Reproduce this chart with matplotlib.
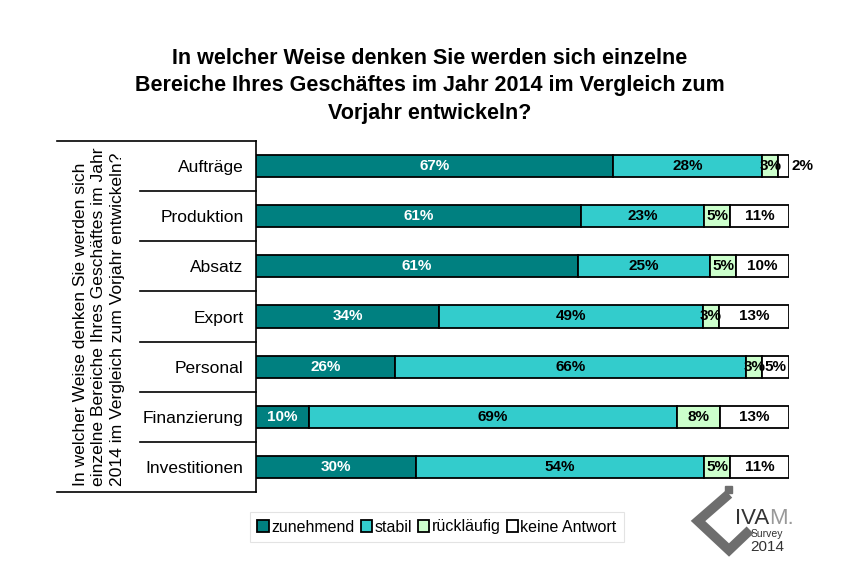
import matplotlib
matplotlib.use("Agg")
import matplotlib.pyplot as plt
import numpy as np

plt.rcParams['font.family'] = ['Liberation Sans', 'DejaVu Sans']

categories = ["Aufträge", "Produktion", "Absatz", "Export", "Personal", "Finanzierung", "Investitionen"]
zunehmend = [67, 61, 61, 34, 26, 10, 30]
stabil = [28, 23, 25, 49, 66, 69, 54]
ruecklaeufig = [3, 5, 5, 3, 3, 8, 5]
keine_antwort = [2, 11, 10, 13, 5, 13, 11]
series_names = ["zunehmend", "stabil", "rückläufig", "keine Antwort"]
colors = ["#008080", "#33CCCC", "#CCFFCC", "#FFFFFF"]
label_colors = ["white", "black", "black", "black"]

title = "In welcher Weise denken Sie werden sich einzelne\nBereiche Ihres Geschäftes im Jahr 2014 im Vergleich zum\nVorjahr entwickeln?"
ylabel = "In welcher Weise denken Sie werden sich\neinzelne Bereiche Ihres Geschäftes im Jahr\n2014 im Vergleich zum Vorjahr entwickeln?"

W, H = 860, 580
fig = plt.figure(figsize=(W / 100, H / 100), dpi=100)

def fx(px):
    return px / W

def fy(py):
    return 1 - py / H

ax_l, ax_r, ax_t, ax_b = 256, 789, 141, 492
ax = fig.add_axes([fx(ax_l), fy(ax_b), (ax_r - ax_l) / W, (ax_b - ax_t) / H])

data = np.array([zunehmend, stabil, ruecklaeufig, keine_antwort], dtype=float)
totals = data.sum(axis=0)
y = np.arange(len(categories))
left = np.zeros(len(categories))
for i, name in enumerate(series_names):
    w = data[i] / totals
    ax.barh(y, w, left=left, height=0.44, color=colors[i], edgecolor="black",
            linewidth=1.3, label=name, zorder=3)
    for j in range(len(categories)):
        val = int(data[i][j])
        cx = left[j] + w[j] / 2
        if i == 3 and val < 3:
            ax.text(1.004, y[j], f"{val}%", ha="left", va="center", fontsize=11,
                    fontweight="bold", color="black", clip_on=False)
        else:
            ax.text(cx, y[j], f"{val}%", ha="center", va="center", fontsize=11,
                    fontweight="bold", color=label_colors[i], zorder=4)
    left += w

ax.set_xlim(0, 1)
ax.set_ylim(len(categories) - 0.5, -0.5)
ax.set_yticks(y)
ax.set_yticklabels(categories, fontsize=12.5)
ax.tick_params(axis="y", length=0, pad=9)
ax.set_xticks([])
for s in ["top", "right", "bottom"]:
    ax.spines[s].set_visible(False)
ax.spines["left"].set_linewidth(1.2)

# separator lines in the category area
tr = ax.get_yaxis_transform()
x_sep = (140 - ax_l) / (ax_r - ax_l)
x_out = (57 - ax_l) / (ax_r - ax_l)
for k in range(len(categories) - 1):
    ax.plot([x_sep, 0], [k + 0.5, k + 0.5], color="black", lw=1.2, transform=tr, clip_on=False)
ax.plot([x_out, 0], [-0.5, -0.5], color="black", lw=1.2, transform=tr, clip_on=False)
ax.plot([x_out, 0], [len(categories) - 0.5, len(categories) - 0.5], color="black", lw=1.2,
        transform=tr, clip_on=False)

# title
fig.text(fx(430), fy(86), title, ha="center", va="center", fontsize=15.5,
         fontweight="bold", linespacing=1.38)

# rotated y label
fig.text(fx(99), fy(486), ylabel, rotation=90, ha="center", va="bottom",
         fontsize=12.6, multialignment="left", linespacing=1.3)

# legend
leg = fig.legend(loc="center", bbox_to_anchor=(fx(437), fy(527)), ncol=4, fontsize=11.5,
                 frameon=True, fancybox=False, edgecolor="#dddddd", handlelength=0.7,
                 handleheight=0.7, handletextpad=0.15, columnspacing=0.4,
                 borderpad=0.45, borderaxespad=0)
leg.get_frame().set_linewidth(0.8)

# IVAM logo
logo_ax = fig.add_axes([0, 0, 1, 1], facecolor="none")
logo_ax.set_xlim(0, W)
logo_ax.set_ylim(H, 0)
logo_ax.axis("off")
logo_ax.plot([729, 698, 729, 750], [494, 521, 550, 530], color="#6e6e6e", lw=7,
             solid_joinstyle="miter", solid_capstyle="butt")
logo_ax.add_patch(plt.Rectangle((725, 486), 7, 7, color="#6e6e6e"))
t_iva = logo_ax.text(735, 524, "IVA", fontsize=16, color="#333333", ha="left", va="baseline")
logo_ax.annotate("M.", xy=(1, 0), xycoords=t_iva, fontsize=16, color="#999999",
                 ha="left", va="bottom")
logo_ax.text(767, 534, "Survey", fontsize=7.5, color="#333333", ha="center", va="center")
logo_ax.text(767, 547, "2014", fontsize=11, color="#333333", ha="center", va="center")

fig.savefig("out.png", dpi=100, facecolor="white")
